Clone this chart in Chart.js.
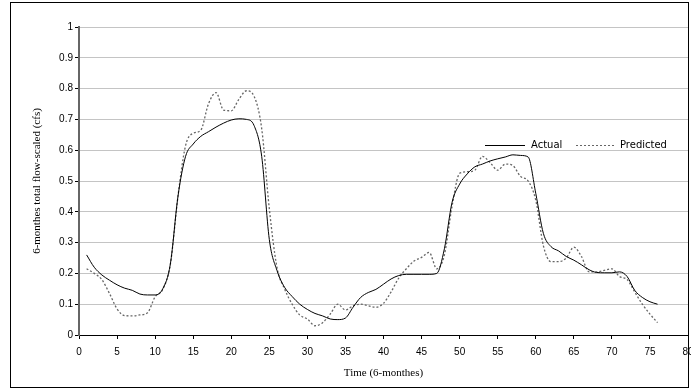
<!DOCTYPE html>
<html>
<head>
<meta charset="utf-8">
<script src="https://cdn.jsdelivr.net/npm/chart.js@4/dist/chart.umd.min.js"></script>
<style>
  body { margin: 0; background: #fff; }
</style>
</head>
<body>
<canvas id="flowcanvas" width="691" height="389"></canvas>
<script>
// time steps (6-month periods)
var months = [
  1, 2, 3, 4, 5, 6, 7, 8, 9, 10, 11, 12, 13, 14, 15, 16, 17, 18, 19, 20,
  21, 22, 23, 24, 25, 26, 27, 28, 29, 30, 31, 32, 33, 34, 35, 36, 37, 38, 39, 40,
  41, 42, 43, 44, 45, 46, 47, 48, 49, 50, 51, 52, 53, 54, 55, 56, 57, 58, 59, 60,
  61, 62, 63, 64, 65, 66, 67, 68, 69, 70, 71, 72, 73, 74, 75, 76
];

var actual = [
  0.26, 0.22, 0.195, 0.178, 0.163, 0.152, 0.145, 0.133, 0.13, 0.13,
  0.15, 0.23, 0.45, 0.58, 0.62, 0.645, 0.66, 0.675, 0.688, 0.698,
  0.702, 0.70, 0.68, 0.58, 0.31, 0.21, 0.155, 0.125, 0.10, 0.083,
  0.07, 0.062, 0.052, 0.05, 0.055, 0.09, 0.122, 0.138, 0.148, 0.165,
  0.182, 0.193, 0.197, 0.197, 0.197, 0.197, 0.20, 0.28, 0.43, 0.49,
  0.523, 0.546, 0.555, 0.565, 0.572, 0.578, 0.585, 0.583, 0.578, 0.46,
  0.33, 0.287, 0.273, 0.255, 0.243, 0.228, 0.212, 0.203, 0.202, 0.202,
  0.205, 0.19, 0.145, 0.122, 0.108, 0.10
];

var predicted = [
  0.215, 0.20, 0.18, 0.135, 0.085, 0.063, 0.062, 0.065, 0.072, 0.124,
  0.148, 0.23, 0.45, 0.615, 0.655, 0.665, 0.75, 0.787, 0.73, 0.728,
  0.765, 0.793, 0.775, 0.67, 0.41, 0.22, 0.15, 0.10, 0.065, 0.052,
  0.03, 0.04, 0.068, 0.10, 0.081, 0.095, 0.10, 0.095, 0.09, 0.103,
  0.14, 0.185, 0.215, 0.24, 0.252, 0.268, 0.215, 0.26, 0.417, 0.525,
  0.53, 0.535, 0.58, 0.56, 0.535, 0.555, 0.55, 0.515, 0.50, 0.438,
  0.29, 0.238, 0.238, 0.25, 0.285, 0.255, 0.205, 0.205, 0.21, 0.215,
  0.19, 0.18, 0.14, 0.10, 0.068, 0.04
];

var seriesNames = ['Actual', 'Predicted'];

function toPoints(values) {
  return values.map(function (v, i) { return {x: months[i], y: v}; });
}

// outer frame + legend drawn inside the plot, like the original sheet
var framePlugin = {
  id: 'frame',
  beforeDraw: function (chart) {
    var ctx = chart.ctx;
    ctx.save();
    ctx.fillStyle = '#fff';
    ctx.fillRect(0, 0, chart.width, chart.height);
    ctx.restore();
  },
  afterDraw: function (chart) {
    var ctx = chart.ctx;
    var ly = 145;
    ctx.save();
    ctx.strokeStyle = '#000';
    ctx.lineWidth = 1;
    ctx.strokeRect(10.5, 2.5, 678, 385);

    // legend
    ctx.font = '10px "DejaVu Sans"';
    ctx.textBaseline = 'middle';
    ctx.fillStyle = '#000';
    ctx.beginPath();
    ctx.moveTo(485, ly + 0.5);
    ctx.lineTo(525, ly + 0.5);
    ctx.stroke();
    ctx.fillText(seriesNames[0], 531, ly);

    ctx.strokeStyle = '#666';
    ctx.setLineDash([2, 2]);
    ctx.beginPath();
    ctx.moveTo(576, ly + 0.5);
    ctx.lineTo(614, ly + 0.5);
    ctx.stroke();
    ctx.setLineDash([]);
    ctx.fillText(seriesNames[1], 620, ly);
    ctx.restore();
  }
};

var ctx = document.getElementById('flowcanvas').getContext('2d');
var flowChart = new Chart(ctx, {
  type: 'line',
  data: {
    datasets: [
      {
        label: seriesNames[0],
        data: toPoints(actual),
        borderColor: '#000',
        borderWidth: 1,
        pointRadius: 0,
        cubicInterpolationMode: 'monotone',
        fill: false
      },
      {
        label: seriesNames[1],
        data: toPoints(predicted),
        borderColor: '#666',
        borderWidth: 1.3,
        borderDash: [2, 2],
        pointRadius: 0,
        cubicInterpolationMode: 'monotone',
        fill: false
      }
    ]
  },
  options: {
    responsive: false,
    devicePixelRatio: 1,
    animation: false,
    layout: { padding: { top: 27, right: 3, left: 0, bottom: 0 } },
    plugins: {
      legend: { display: false },
      tooltip: { enabled: false }
    },
    scales: {
      x: {
        type: 'linear',
        min: 0,
        max: 80,
        ticks: {
          stepSize: 5,
          padding: 7,
          maxRotation: 0,
          color: '#000',
          font: { family: '"Liberation Sans", Arial', size: 10 }
        },
        grid: {
          drawOnChartArea: false,
          drawTicks: true,
          tickLength: 4,
          tickColor: '#000'
        },
        border: { color: '#000', width: 1 },
        title: {
          display: true,
          text: 'Time (6-monthes)',
          color: '#000',
          padding: { top: 0, bottom: 9 },
          font: { family: '"Liberation Serif", "Times New Roman"', size: 11 }
        },
        afterFit: function (scale) {
          scale.height = 54;
          scale.paddingLeft = 0;
          scale.paddingRight = 0;
        }
      },
      y: {
        min: 0,
        max: 1,
        ticks: {
          stepSize: 0.1,
          padding: 2,
          color: '#000',
          font: { family: '"Liberation Sans", Arial', size: 10 },
          callback: function (v) { return String(Math.round(v * 10) / 10); }
        },
        grid: {
          color: '#c4c4c4',
          lineWidth: 1,
          tickLength: 4,
          tickColor: '#000'
        },
        border: { color: '#666', width: 2 },
        title: {
          display: true,
          text: '6-monthes total flow-scaled (cfs)',
          color: '#000',
          padding: { top: 31, bottom: 0 },
          font: { family: '"Liberation Serif", "Times New Roman"', size: 11 }
        },
        afterFit: function (scale) {
          scale.width = 79;
          scale.paddingTop = 0;
          scale.paddingBottom = 0;
        }
      }
    }
  },
  plugins: [framePlugin]
});
</script>
</body>
</html>
